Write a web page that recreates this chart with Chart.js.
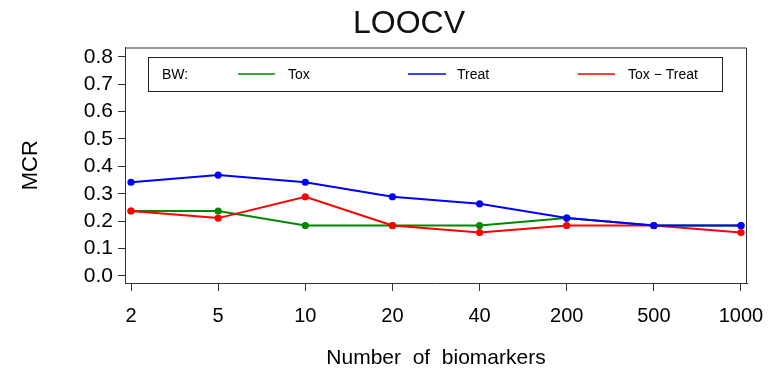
<!DOCTYPE html>
<html>
<head>
<meta charset="utf-8">
<script src="https://cdn.jsdelivr.net/npm/chart.js@4.4.1/dist/chart.umd.min.js"></script>
<style>
  html, body { margin: 0; padding: 0; background: #fff; }
  canvas { display: block; }
</style>
</head>
<body>
<canvas id="c" width="772" height="371"></canvas>
<script>
// ---- data ----
const xLabels = ["2", "5", "10", "20", "40", "200", "500", "1000"];
const yTicks = [0.0, 0.1, 0.2, 0.3, 0.4, 0.5, 0.6, 0.7, 0.8];
const tox = [0.237, 0.237, 0.184, 0.184, 0.184, 0.211, 0.184, 0.184];
const treat = [0.342, 0.368, 0.342, 0.289, 0.263, 0.211, 0.184, 0.184];
const toxTreat = [0.237, 0.211, 0.289, 0.184, 0.158, 0.184, 0.184, 0.158];
const seriesNames = ["Tox", "Treat", "Tox \u2212 Treat"];
const titleText = "LOOCV";
const xTitle = "Number  of  biomarkers";
const yTitle = "MCR";
const legendLead = "BW:";

const FONT = "'Liberation Sans', Arial, Helvetica, sans-serif";
const colors = ["#008800", "#0000ff", "#ff0000"];

const toPts = arr => arr.map((v, i) => ({ x: i, y: v }));

const mkDs = (label, data, color, order) => ({
  label, data: toPts(data), borderColor: color, backgroundColor: color,
  pointBackgroundColor: color, pointBorderColor: color,
  borderWidth: 2, pointRadius: 3.6, pointHoverRadius: 3.6, pointBorderWidth: 0,
  tension: 0, fill: false, order
});

const decor = {
  id: 'decor',
  beforeDraw(chart) {
    const ctx = chart.ctx;
    ctx.save();
    ctx.fillStyle = '#fff';
    ctx.fillRect(0, 0, chart.width, chart.height);
    ctx.restore();
  },
  afterDraw(chart) {
    const ctx = chart.ctx;
    const a = chart.chartArea;
    ctx.save();
    // box top/right
    ctx.strokeStyle = '#333';
    ctx.lineWidth = 1;
    ctx.beginPath();
    ctx.moveTo(a.left, a.top + 0.5);
    ctx.lineTo(a.right - 0.5, a.top + 0.5);
    ctx.lineTo(a.right - 0.5, a.bottom);
    ctx.stroke();
    // title
    ctx.fillStyle = '#111';
    ctx.font = "32px " + FONT;
    ctx.textAlign = 'center';
    ctx.textBaseline = 'middle';
    ctx.fillText(titleText, 409, 24);
    // legend
    const L = 148.5, R = 722.5, T = 57.5, B = 91.5, cy = 75;
    ctx.strokeStyle = '#222';
    ctx.strokeRect(L, T, R - L, B - T);
    ctx.font = "14px " + FONT;
    ctx.textAlign = 'left';
    ctx.fillStyle = '#000';
    ctx.fillText(legendLead, 162, cy);
    const items = [
      { x1: 238, x2: 275, tx: 288 },
      { x1: 408, x2: 446, tx: 457 },
      { x1: 578, x2: 615, tx: 628 }
    ];
    items.forEach((it, i) => {
      ctx.strokeStyle = colors[i];
      ctx.lineWidth = 1.5;
      ctx.beginPath();
      ctx.moveTo(it.x1, cy - 1);
      ctx.lineTo(it.x2, cy - 1);
      ctx.stroke();
      ctx.fillStyle = '#000';
      ctx.fillText(seriesNames[i], it.tx, cy);
    });
    ctx.restore();
  }
};

new Chart(document.getElementById('c'), {
  type: 'line',
  data: {
    datasets: [
      mkDs(seriesNames[0], tox, colors[0], 3),
      mkDs(seriesNames[1], treat, colors[1], 1),
      mkDs(seriesNames[2], toxTreat, colors[2], 2)
    ]
  },
  options: {
    responsive: false,
    animation: false,
    events: [],
    layout: { padding: { top: 47.5, right: 25, bottom: 0, left: 0 } },
    plugins: { legend: { display: false }, title: { display: false }, tooltip: { enabled: false } },
    scales: {
      x: {
        type: 'linear',
        min: -0.069, max: 7.069,
        afterBuildTicks: s => { s.ticks = xLabels.map((_, i) => ({ value: i })); },
        afterFit: s => { s.height = 88; s.paddingLeft = 0; s.paddingRight = 0; },
        ticks: {
          autoSkip: false, maxRotation: 0, padding: 13,
          color: '#000', font: { family: FONT, size: 20 },
          callback: v => xLabels[v]
        },
        grid: { drawOnChartArea: false, drawTicks: true, tickLength: 8, color: '#333', tickWidth: 1 },
        border: { display: true, color: '#333', width: 1 },
        title: { display: true, text: xTitle, color: '#000', font: { family: FONT, size: 21 }, padding: { top: 0, bottom: 0 } }
      },
      y: {
        type: 'linear',
        min: -0.026, max: 0.834,
        afterBuildTicks: s => { s.ticks = yTicks.map(v => ({ value: v })); },
        afterFit: s => { s.width = 125; s.paddingTop = 0; s.paddingBottom = 0; },
        ticks: {
          padding: 5, color: '#000', font: { family: FONT, size: 21 },
          callback: v => Number(v).toFixed(1)
        },
        grid: { drawOnChartArea: false, drawTicks: true, tickLength: 7, color: '#333', tickWidth: 1 },
        border: { display: true, color: '#333', width: 1 },
        title: { display: true, text: yTitle, color: '#000', font: { family: FONT, size: 22 }, padding: { top: 18, bottom: 0 } }
      }
    }
  },
  plugins: [decor]
});
</script>
</body>
</html>
